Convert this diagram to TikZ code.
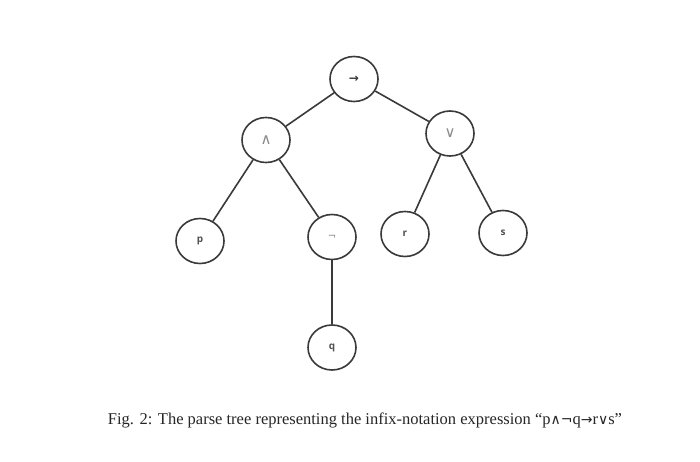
\documentclass[tikz,border=0pt]{standalone}
\usepackage{fontspec}
\setmainfont{Liberation Serif}
\newfontfamily\symfont{DejaVu Sans}
\newfontfamily\lblfont{Open Sans}
\usetikzlibrary{shapes.geometric}
\definecolor{linegray}{HTML}{3A3A3A}
\definecolor{lblgray}{HTML}{505050}
\definecolor{symgray}{HTML}{8A8A8A}
\begin{document}
\begin{tikzpicture}[x=1pt,y=1pt,
  treenode/.style={ellipse, draw=linegray, line width=1.6pt, fill=white,
    minimum width=48pt, minimum height=45pt, inner sep=0pt, text=lblgray,
    font=\lblfont\fontsize{10}{11}\selectfont\bfseries},
  symnode/.style={treenode, text=symgray, font=\symfont\fontsize{15}{16}\selectfont},
  edge/.style={draw=linegray, line width=1.6pt}]
\useasboundingbox (0,0) rectangle (700,461);
\fill[white] (0,0) rectangle (700,461);
\node[treenode, font=\symfont\fontsize{12}{13}\selectfont\bfseries, text=linegray] (imp) at (354,382) {→};
\node[symnode] (and) at (266,321) {∧};
\node[symnode] (or) at (450,327.5) {∨};
\node[treenode] (p) at (200,220) {p};
\node[treenode, text=symgray, font=\symfont\fontsize{10}{11}\selectfont] (neg) at (332,224) {¬};
\node[treenode] (r) at (405,227) {r};
\node[treenode] (s) at (503,228) {s};
\node[treenode] (q) at (332,113.5) {q};
\draw[edge] (imp) -- (and);
\draw[edge] (imp) -- (or);
\draw[edge] (and) -- (p);
\draw[edge] (and) -- (neg);
\draw[edge] (or) -- (r);
\draw[edge] (or) -- (s);
\draw[edge] (neg) -- (q);
\node[font=\fontsize{16.5}{19}\selectfont, text=black!85] (cap) at (365,41)
  {Fig. 2: The parse tree representing the infix-notation expression “p{\symfont\fontsize{14}{16}\selectfont∧¬}q{\symfont\fontsize{14}{16}\selectfont→}r{\symfont\fontsize{14}{16}\selectfont∨}s”};
\end{tikzpicture}
\end{document}
